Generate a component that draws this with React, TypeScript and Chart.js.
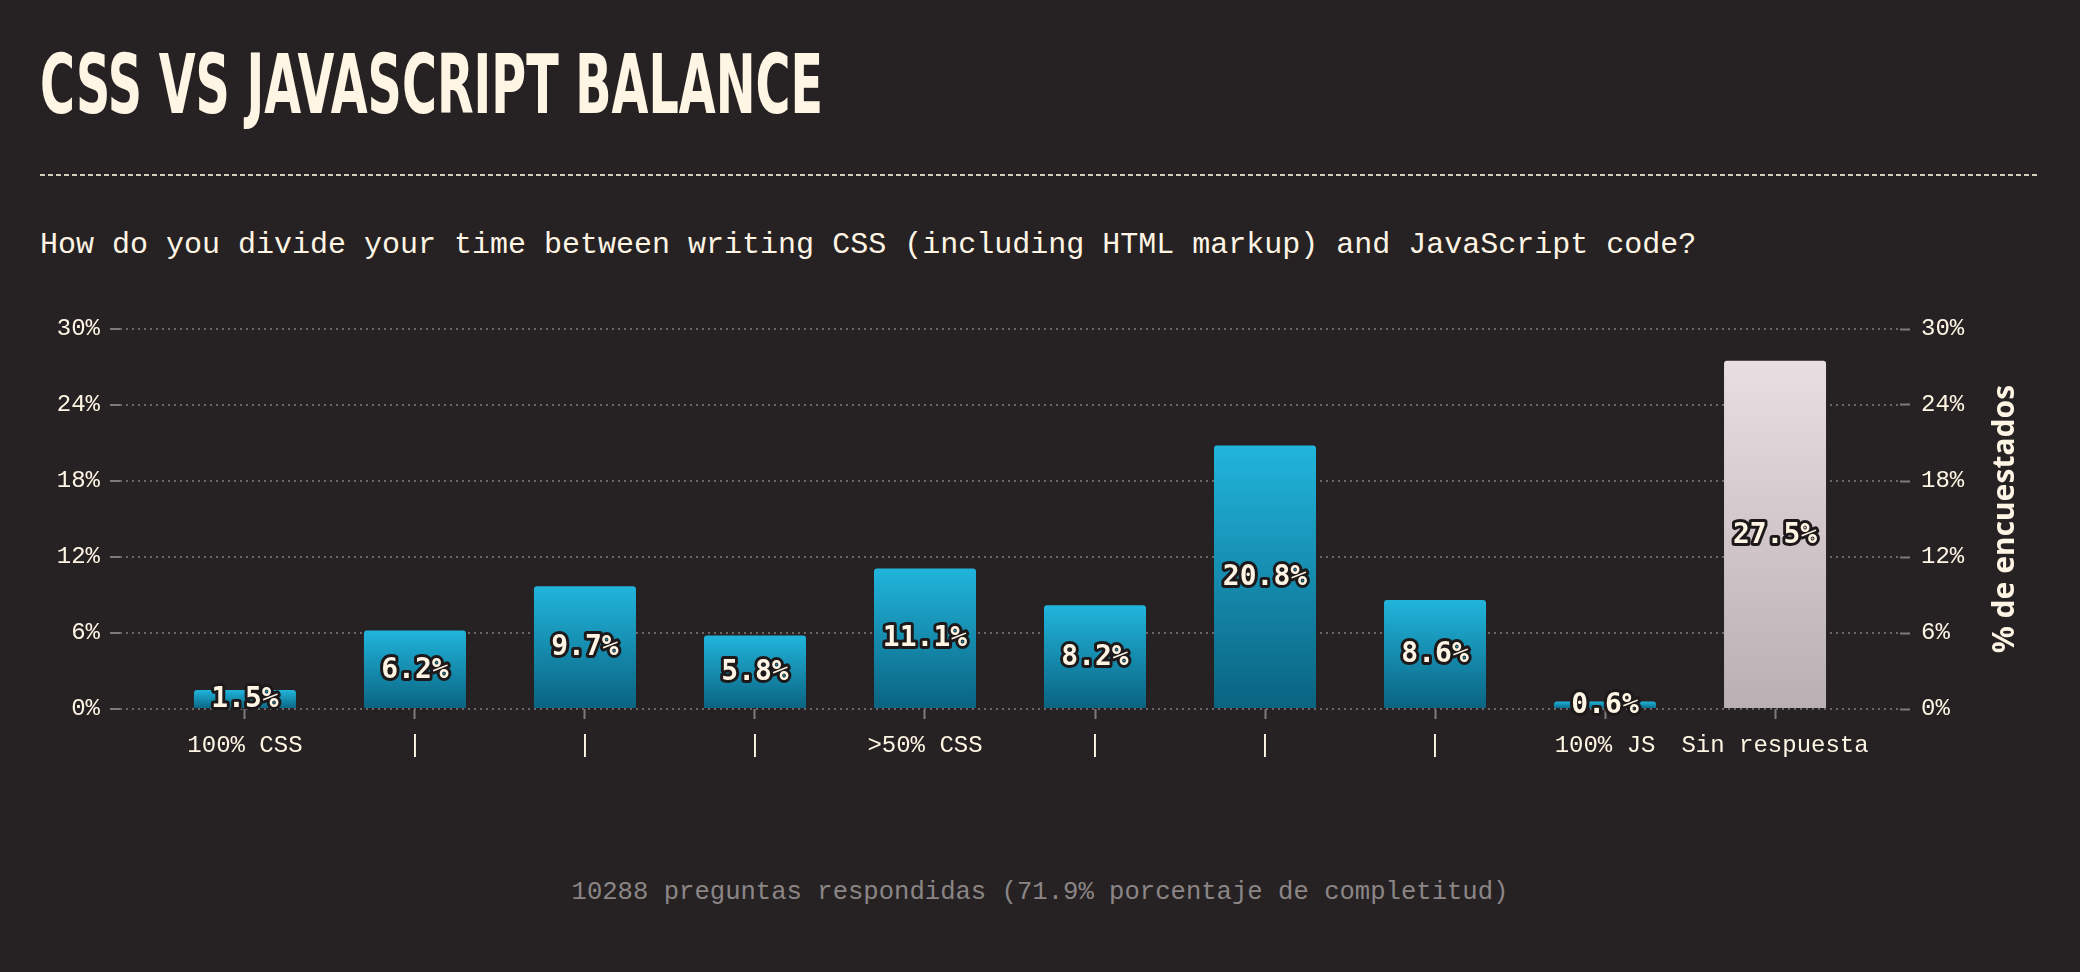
import React, { useEffect, useLayoutEffect, useRef } from 'react';
import { Chart, registerables } from 'chart.js';

Chart.register(...registerables);

const TITLE = 'CSS VS JAVASCRIPT BALANCE';
const QUESTION = 'How do you divide your time between writing CSS (including HTML markup) and JavaScript code?';
const FOOTER = '10288 preguntas respondidas (71.9% porcentaje de completitud)';
const AXIS_TITLE = '% de encuestados';

const categories = ['100% CSS', '|', '|', '|', '>50% CSS', '|', '|', '|', '100% JS', 'Sin respuesta'];
const values = [1.5, 6.2, 9.7, 5.8, 11.1, 8.2, 20.8, 8.6, 0.6, 27.5];
const isNoAnswer = [false, false, false, false, false, false, false, false, false, true];
const yTickValues = [0, 6, 12, 18, 24, 30];

const BG = '#262223';
const CREAM = '#fff5e4';
const GRID = '#6c6768';
const TICK = '#7e797a';
const MONO = '"Liberation Mono", "DejaVu Sans Mono", monospace';

const barLabelPlugin = {
  id: 'barLabels',
  afterDatasetsDraw(chart: any) {
    const ctx = chart.ctx;
    const meta = chart.getDatasetMeta(0);
    ctx.save();
    ctx.font = 'bold 28px "DejaVu Sans Mono", monospace';
    ctx.textAlign = 'center';
    ctx.textBaseline = 'middle';
    ctx.lineJoin = 'round';
    meta.data.forEach((el: any, i: number) => {
      const p = el.getProps(['x', 'y', 'base'], true);
      const cy = (p.y + p.base) / 2 + 1;
      const text = values[i].toFixed(1) + '%';
      ctx.lineWidth = 6;
      ctx.strokeStyle = '#1d191a';
      ctx.strokeText(text, p.x, cy);
      ctx.fillStyle = CREAM;
      ctx.fillText(text, p.x, cy);
    });
    ctx.restore();
  },
};

const axisTitlePlugin = {
  id: 'rightAxisTitle',
  afterDraw(chart: any) {
    const ctx = chart.ctx;
    const area = chart.chartArea;
    const ys = chart.scales.y2;
    ctx.save();
    ctx.translate(ys.left + 105, (area.top + area.bottom) / 2);
    ctx.rotate(-Math.PI / 2);
    ctx.font = 'bold 30px "Noto Sans", sans-serif';
    ctx.fillStyle = CREAM;
    ctx.textAlign = 'center';
    ctx.textBaseline = 'middle';
    ctx.fillText(AXIS_TITLE, 0, 0);
    ctx.restore();
  },
};

export default function App() {
  const canvasRef = useRef<HTMLCanvasElement | null>(null);
  const titleRef = useRef<HTMLSpanElement | null>(null);

  useLayoutEffect(() => {
    document.body.style.margin = '0';
    document.body.style.background = BG;
    const t = titleRef.current;
    if (t) {
      t.style.transform = 'none';
      const w = t.getBoundingClientRect().width;
      if (w > 0) t.style.transform = `scaleX(${783 / w})`;
    }
  }, []);

  useEffect(() => {
    const canvas = canvasRef.current;
    if (!canvas) return;
    const tickFont = { family: MONO, size: 24 };
    const chart = new Chart(canvas, {
      type: 'bar',
      data: {
        datasets: [
          {
            data: values.map((v, i) => ({ x: i, y: v })),
            backgroundColor: (c: any) => {
              const chartObj = c.chart;
              const ys = chartObj.scales?.y;
              const i = c.dataIndex;
              const light = isNoAnswer[i] ? '#e9dee2' : '#21b5dc';
              const dark = isNoAnswer[i] ? '#b9b0b3' : '#0a6381';
              if (!ys || c.type !== 'data') return light;
              const top = ys.getPixelForValue(values[i]);
              const bottom = ys.getPixelForValue(0);
              if (!isFinite(top) || !isFinite(bottom) || top === bottom) return light;
              const g = chartObj.ctx.createLinearGradient(0, top, 0, bottom);
              g.addColorStop(0, light);
              g.addColorStop(1, dark);
              return g;
            },
            borderRadius: 3,
            borderSkipped: 'start',
            categoryPercentage: 1,
            barPercentage: 0.6,
          } as any,
        ],
      },
      options: {
        responsive: false,
        animation: false,
        devicePixelRatio: 1,
        layout: { padding: { top: 29, left: 0, right: 0, bottom: 0 } },
        plugins: { legend: { display: false }, tooltip: { enabled: false } },
        scales: {
          x: {
            type: 'linear',
            offset: false,
            min: -0.735,
            max: 9.735,
            afterBuildTicks: (s: any) => {
              s.ticks = categories.map((_, i) => ({ value: i }));
            },
            afterFit: (s: any) => {
              s.height = 71;
            },
            ticks: {
              autoSkip: false,
              maxRotation: 0,
              minRotation: 0,
              padding: 12,
              color: CREAM,
              font: tickFont,
              callback: (_v: any, idx: number) => categories[idx] ?? '',
            },
            grid: {
              display: true,
              offset: false,
              drawOnChartArea: false,
              drawTicks: true,
              tickLength: 10,
              tickColor: TICK,
              tickWidth: 2,
            },
            border: { display: false },
          } as any,
          y: {
            position: 'left',
            min: 0,
            max: 30,
            afterBuildTicks: (s: any) => {
              s.ticks = yTickValues.map((v) => ({ value: v }));
            },
            afterFit: (s: any) => {
              s.width = 120;
            },
            ticks: {
              padding: 10,
              color: CREAM,
              font: tickFont,
              callback: (v: any) => v + '%',
            },
            grid: {
              color: GRID,
              lineWidth: 2,
              tickLength: 10,
              tickColor: TICK,
              tickWidth: 2,
              tickBorderDash: [],
            },
            border: { display: false, dash: [2, 4] },
          } as any,
          y2: {
            position: 'right',
            min: 0,
            max: 30,
            afterBuildTicks: (s: any) => {
              s.ticks = yTickValues.map((v) => ({ value: v }));
            },
            afterFit: (s: any) => {
              s.width = 180;
            },
            ticks: {
              padding: 11,
              color: CREAM,
              font: tickFont,
              callback: (v: any) => v + '%',
            },
            grid: {
              drawOnChartArea: false,
              tickLength: 10,
              tickColor: TICK,
              tickWidth: 2,
              tickBorderDash: [],
            },
            border: { display: false },
          } as any,
        },
      },
      plugins: [barLabelPlugin, axisTitlePlugin],
    });
    return () => chart.destroy();
  }, []);

  return (
    <div
      style={{
        position: 'relative',
        width: 2080,
        height: 972,
        background: BG,
        overflow: 'hidden',
      }}
    >
      <div
        style={{
          position: 'absolute',
          left: 40,
          top: 44,
          whiteSpace: 'nowrap',
          fontFamily: '"Liberation Sans Narrow", "DejaVu Sans Condensed", "DejaVu Sans", sans-serif',
          fontWeight: 'bold',
          fontSize: 82,
          lineHeight: '82px',
          color: CREAM,
        }}
      >
        <span ref={titleRef} style={{ display: 'inline-block', transformOrigin: 'left center' }}>
          {TITLE}
        </span>
      </div>
      <div
        style={{
          position: 'absolute',
          left: 40,
          top: 174,
          width: 2000,
          height: 2,
          background: 'repeating-linear-gradient(to right, rgba(255,245,228,0.8) 0 5px, transparent 5px 8px)',
        }}
      />
      <div
        style={{
          position: 'absolute',
          left: 40,
          top: 230,
          whiteSpace: 'nowrap',
          fontFamily: MONO,
          fontSize: 30,
          lineHeight: '30px',
          color: CREAM,
        }}
      >
        {QUESTION}
      </div>
      <canvas
        ref={canvasRef}
        width={2080}
        height={480}
        style={{ position: 'absolute', left: 0, top: 300, width: 2080, height: 480 }}
      />
      <div
        style={{
          position: 'absolute',
          left: 0,
          top: 880,
          width: 2080,
          textAlign: 'center',
          whiteSpace: 'nowrap',
          fontFamily: MONO,
          fontSize: 25.6,
          lineHeight: '26px',
          color: '#8b8586',
        }}
      >
        {FOOTER}
      </div>
    </div>
  );
}
